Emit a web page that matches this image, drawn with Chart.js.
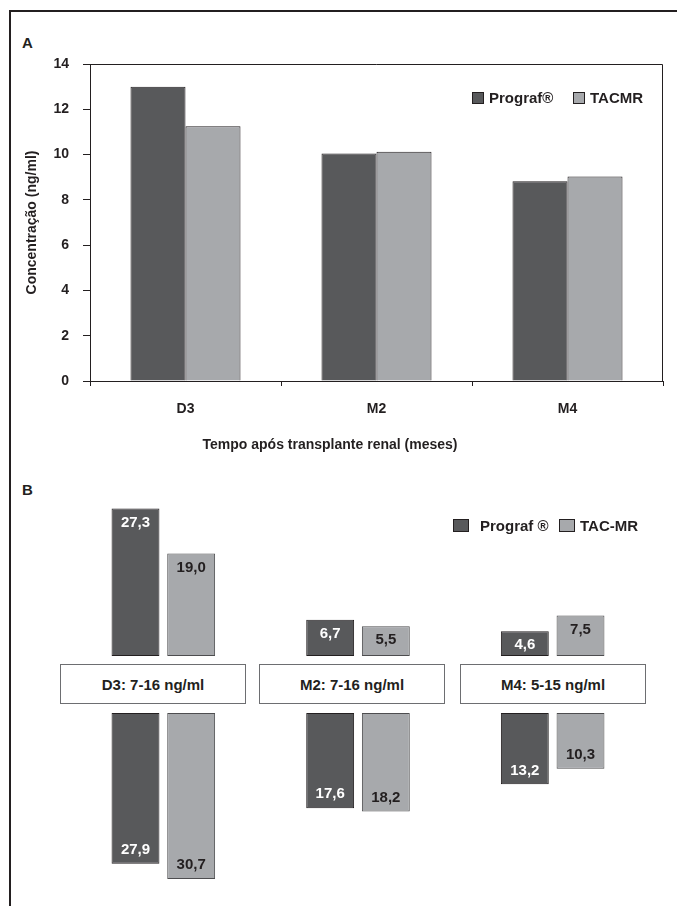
<!DOCTYPE html>
<html>
<head>
<meta charset="utf-8">
<script src="https://cdn.jsdelivr.net/npm/chart.js@4.4.0/dist/chart.umd.min.js"></script>
<style>
html,body{margin:0;padding:0;background:#fff;}
body{width:677px;height:906px;position:relative;overflow:hidden;font-family:"Liberation Sans",Arial,sans-serif;font-weight:bold;color:#231f20;}
.abs{position:absolute;white-space:nowrap;}
canvas{position:absolute;}
.sw{position:absolute;box-sizing:border-box;border:1px solid #231f20;}
.box{position:absolute;box-sizing:border-box;border:1px solid #6d6e71;background:#fff;text-align:center;font-size:15px;}
</style>
</head>
<body>
<div class="abs" style="left:9px;top:10px;width:2px;height:896px;background:#231f20;"></div>
<div class="abs" style="left:9px;top:10px;width:668px;height:2px;background:#231f20;"></div>

<div class="abs" style="left:22px;top:34px;font-size:15px;line-height:18px;">A</div>
<div class="abs" style="left:22px;top:481px;font-size:15px;line-height:18px;">B</div>

<canvas id="chartA" width="677" height="460" style="left:0;top:0;"></canvas>
<canvas id="chartBTop" width="584" height="162" style="left:66px;top:494px;"></canvas>
<canvas id="chartBBottom" width="584" height="173" style="left:66px;top:713px;"></canvas>

<div id="legendA"></div>
<div id="legendB"></div>
<div id="boxesB"></div>
<div class="abs" id="xTitleA" style="left:130px;top:435px;width:400px;text-align:center;font-size:14px;line-height:18px;"></div>

<script>
// ---------- DATA ----------
const categoriesA = ['D3', 'M2', 'M4'];
const prografA = [13.0, 10.05, 8.82];
const tacmrA = [11.25, 10.12, 9.03];
const yTicksA = [0, 2, 4, 6, 8, 10, 12, 14];
const seriesNamesA = ['Prograf®', 'TACMR'];
const yTitleA = 'Concentração (ng/ml)';
const xTitleA = 'Tempo após transplante renal (meses)';

const categoriesB = ['D3: 7-16 ng/ml', 'M2: 7-16 ng/ml', 'M4: 5-15 ng/ml'];
const prografAbove = [27.3, 6.7, 4.6];
const tacmrAbove = [19.0, 5.5, 7.5];
const prografBelow = [27.9, 17.6, 13.2];
const tacmrBelow = [30.7, 18.2, 10.3];
const seriesNamesB = ['Prograf ®', 'TAC-MR'];

// ---------- STYLE ----------
const DARK = '#58595b';
const LIGHT = '#a7a9ac';
const INK = '#231f20';
const FONT = '"Liberation Sans", Arial, sans-serif';

Chart.defaults.font.family = FONT;
Chart.defaults.font.weight = 'bold';
Chart.defaults.color = INK;
Chart.defaults.animation = false;

// plot frame (top + right edges) for panel A
const plotFrame = {
  id: 'plotFrame',
  afterDraw(chart) {
    const {ctx, chartArea: a} = chart;
    ctx.save();
    ctx.strokeStyle = INK;
    ctx.lineWidth = 1;
    ctx.beginPath();
    ctx.moveTo(a.left, a.top + 0.5);
    ctx.lineTo(a.right - 0.5, a.top + 0.5);
    ctx.lineTo(a.right - 0.5, a.bottom);
    ctx.stroke();
    ctx.restore();
  }
};

// value labels for panel B
const valueLabels = {
  id: 'valueLabels',
  afterDatasetsDraw(chart) {
    const ctx = chart.ctx;
    const rev = chart.options.scales.y.reverse;
    chart.data.datasets.forEach((ds, i) => {
      const meta = chart.getDatasetMeta(i);
      meta.data.forEach((bar, j) => {
        const txt = ds.data[j].toFixed(1).replace('.', ',');
        ctx.save();
        ctx.font = 'bold 15px ' + FONT;
        ctx.fillStyle = ds.labelColor;
        ctx.textAlign = 'center';
        ctx.textBaseline = 'middle';
        ctx.fillText(txt, bar.x, rev ? bar.y - 14 : bar.y + 14);
        ctx.restore();
      });
    });
  }
};

// ---------- PANEL A ----------
new Chart(document.getElementById('chartA'), {
  type: 'bar',
  data: {
    labels: categoriesA,
    datasets: [
      {label: seriesNamesA[0], data: prografA, backgroundColor: DARK, borderColor: INK, borderWidth: 1, borderSkipped: 'start'},
      {label: seriesNamesA[1], data: tacmrA, backgroundColor: LIGHT, borderColor: INK, borderWidth: 1, borderSkipped: 'start'}
    ]
  },
  options: {
    responsive: false,
    layout: {padding: {top: 64, right: 14, left: 20, bottom: 39}},
    datasets: {bar: {categoryPercentage: 0.576, barPercentage: 1}},
    plugins: {legend: {display: false}, tooltip: {enabled: false}},
    scales: {
      x: {
        afterFit(s) { s.height = 40; },
        grid: {display: true, drawOnChartArea: false, drawTicks: true, tickLength: 5, color: INK, offset: true},
        border: {display: true, color: INK, width: 1},
        ticks: {padding: 15, font: {size: 14, weight: 'bold'}, color: INK}
      },
      y: {
        min: yTicksA[0], max: yTicksA[yTicksA.length - 1],
        afterFit(s) { s.width = 70; },
        afterBuildTicks(s) { s.ticks = yTicksA.map(v => ({value: v})); },
        grid: {display: true, drawOnChartArea: false, drawTicks: true, tickLength: 7, color: INK},
        border: {display: true, color: INK, width: 1},
        ticks: {padding: 14, font: {size: 14, weight: 'bold'}, color: INK},
        title: {display: true, text: yTitleA, font: {size: 14, weight: 'bold'}, color: INK, padding: {top: 4, bottom: 0}}
      }
    }
  },
  plugins: [plotFrame]
});
document.getElementById('xTitleA').textContent = xTitleA;

// ---------- PANEL B ----------
function bChart(id, d1, d2, max, reverse) {
  return new Chart(document.getElementById(id), {
    type: 'bar',
    data: {
      labels: categoriesB,
      datasets: [
        {label: seriesNamesB[0], data: d1, backgroundColor: DARK, borderColor: INK, borderWidth: 1, borderSkipped: false, labelColor: '#ffffff'},
        {label: seriesNamesB[1], data: d2, backgroundColor: LIGHT, borderColor: '#4d4d4f', borderWidth: 1, borderSkipped: false, labelColor: INK}
      ]
    },
    options: {
      responsive: false,
      layout: {padding: 0},
      datasets: {bar: {categoryPercentage: 0.572, barPercentage: 0.86}},
      plugins: {legend: {display: false}, tooltip: {enabled: false}},
      scales: {
        x: {display: false},
        y: {display: false, min: 0, max: max, reverse: reverse}
      }
    },
    plugins: [valueLabels]
  });
}
bChart('chartBTop', prografAbove, tacmrAbove, 30, false);
bChart('chartBBottom', prografBelow, tacmrBelow, 32, true);

// ---------- LEGENDS & BOXES (HTML text) ----------
function legend(containerId, names, items, fontSize) {
  const c = document.getElementById(containerId);
  names.forEach((n, i) => {
    const it = items[i];
    const sw = document.createElement('div');
    sw.className = 'sw';
    sw.style.cssText = `left:${it.sx}px;top:${it.sy}px;width:${it.sw}px;height:${it.sh}px;background:${i === 0 ? DARK : LIGHT};`;
    c.appendChild(sw);
    const t = document.createElement('div');
    t.className = 'abs';
    t.style.cssText = `left:${it.tx}px;top:${it.ty - 9}px;font-size:${fontSize}px;line-height:18px;`;
    t.textContent = n;
    c.appendChild(t);
  });
}
legend('legendA', seriesNamesA, [
  {sx: 472, sy: 92, sw: 12, sh: 12, tx: 489, ty: 98},
  {sx: 573, sy: 92, sw: 12, sh: 12, tx: 590, ty: 98}
], 15);
legend('legendB', seriesNamesB, [
  {sx: 453, sy: 519, sw: 16, sh: 13, tx: 480, ty: 525.5},
  {sx: 559, sy: 519, sw: 16, sh: 13, tx: 580, ty: 525.5}
], 15);

const boxLefts = [60, 259, 460];
const boxesEl = document.getElementById('boxesB');
categoriesB.forEach((c, i) => {
  const b = document.createElement('div');
  b.className = 'box';
  b.style.cssText = `left:${boxLefts[i]}px;top:664px;width:186px;height:40px;line-height:40px;`;
  b.textContent = c;
  boxesEl.appendChild(b);
});
</script>
</body>
</html>
